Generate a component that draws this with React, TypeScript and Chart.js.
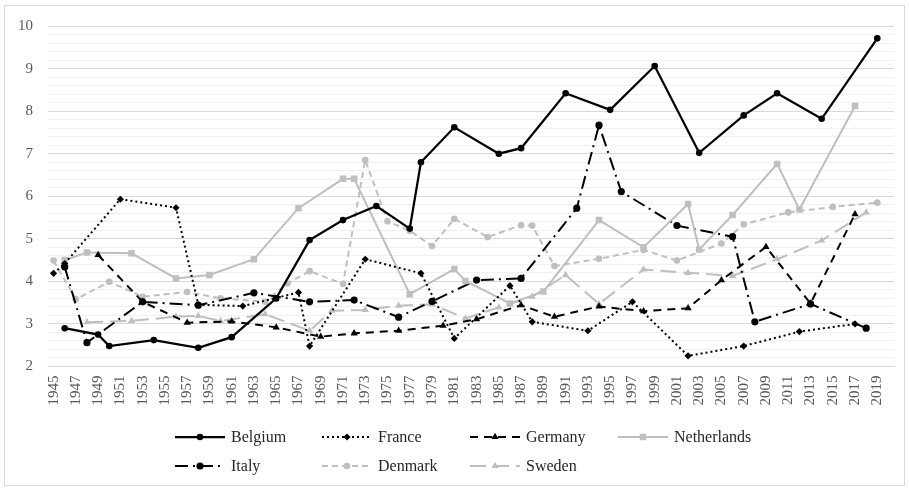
import React, { useEffect, useRef } from 'react';
import { Chart, registerables } from 'chart.js';

Chart.register(...registerables);

// ---------------- Data ----------------
const xTickYears = [1945, 1947, 1949, 1951, 1953, 1955, 1957, 1959, 1961, 1963, 1965, 1967, 1969, 1971, 1973, 1975, 1977, 1979, 1981, 1983, 1985, 1987, 1989, 1991, 1993, 1995, 1997, 1999, 2001, 2003, 2005, 2007, 2009, 2011, 2013, 2015, 2017, 2019];
const yTickLabels = ['2', '3', '4', '5', '6', '7', '8', '9', '10'];

const belgiumYears = [1946, 1949, 1950, 1954, 1958, 1961, 1965, 1968, 1971, 1974, 1977, 1978, 1981, 1985, 1987, 1991, 1995, 1999, 2003, 2007, 2010, 2014, 2019];
const belgiumValues = [2.90, 2.75, 2.48, 2.62, 2.44, 2.69, 3.60, 4.97, 5.44, 5.77, 5.24, 6.80, 7.62, 7.00, 7.13, 8.42, 8.03, 9.06, 7.02, 7.90, 8.42, 7.82, 9.71];

const franceYears = [1945, 1946, 1951, 1956, 1958, 1962, 1967, 1968, 1973, 1978, 1981, 1986, 1988, 1993, 1997, 2002, 2007, 2012, 2017];
const franceValues = [4.19, 4.42, 5.93, 5.73, 3.45, 3.42, 3.74, 2.48, 4.52, 4.19, 2.66, 3.90, 3.05, 2.84, 3.52, 2.25, 2.48, 2.82, 3.00];

const germanyYears = [1949, 1953, 1957, 1961, 1965, 1969, 1972, 1976, 1980, 1983, 1987, 1990, 1994, 1998, 2002, 2005, 2009, 2013, 2017];
const germanyValues = [4.62, 3.52, 3.03, 3.06, 2.92, 2.70, 2.78, 2.84, 2.96, 3.11, 3.44, 3.17, 3.41, 3.30, 3.37, 4.03, 4.81, 3.48, 5.58];

const netherlandsYears = [1946, 1948, 1952, 1956, 1959, 1963, 1967, 1971, 1972, 1977, 1981, 1982, 1986, 1989, 1994, 1998, 2002, 2003, 2006, 2010, 2012, 2017];
const netherlandsValues = [4.50, 4.68, 4.66, 4.07, 4.15, 4.52, 5.72, 6.41, 6.41, 3.70, 4.29, 4.01, 3.48, 3.76, 5.44, 4.80, 5.82, 4.75, 5.56, 6.76, 5.69, 8.12];

const italyYears = [1946, 1948, 1953, 1958, 1963, 1968, 1972, 1976, 1979, 1983, 1987, 1992, 1994, 1996, 2001, 2006, 2008, 2013, 2018];
const italyValues = [4.34, 2.56, 3.52, 3.44, 3.73, 3.52, 3.56, 3.16, 3.53, 4.03, 4.07, 5.72, 7.67, 6.11, 5.31, 5.05, 3.05, 3.47, 2.90];

const denmarkYears = [1945, 1947, 1950, 1953, 1957, 1960, 1964, 1966, 1968, 1971, 1973, 1975, 1977, 1979, 1981, 1984, 1987, 1988, 1990, 1994, 1998, 2001, 2005, 2007, 2011, 2015, 2019];
const denmarkValues = [4.49, 3.58, 3.99, 3.64, 3.75, 3.60, 3.52, 3.95, 4.24, 3.94, 6.85, 5.41, 5.19, 4.83, 5.47, 5.04, 5.32, 5.31, 4.36, 4.53, 4.74, 4.49, 4.89, 5.34, 5.62, 5.75, 5.85];

const swedenYears = [1948, 1952, 1956, 1958, 1960, 1964, 1968, 1970, 1973, 1976, 1979, 1982, 1985, 1988, 1991, 1994, 1998, 2002, 2006, 2010, 2014, 2018];
const swedenValues = [3.04, 3.07, 3.17, 3.19, 3.07, 3.23, 2.84, 3.31, 3.33, 3.43, 3.46, 3.13, 3.39, 3.64, 4.15, 3.47, 4.28, 4.20, 4.13, 4.52, 4.96, 5.62];

// ---------------- Styles ----------------
const BLACK = '#000000';
const GRAY = '#bfbfbf';
const FONT = "'Liberation Serif', 'Times New Roman', serif";

type SeriesDef = {
  label: string;
  years: number[];
  values: number[];
  color: string;
  width: number;
  dash: number[];
  marker: 'circle' | 'rectRot' | 'triangle' | 'rect';
  radius: number;
};

const series: SeriesDef[] = [
  { label: 'Belgium', years: belgiumYears, values: belgiumValues, color: BLACK, width: 2.25, dash: [], marker: 'circle', radius: 3.3 },
  { label: 'France', years: franceYears, values: franceValues, color: BLACK, width: 2, dash: [2, 3], marker: 'rectRot', radius: 3.6 },
  { label: 'Germany', years: germanyYears, values: germanyValues, color: BLACK, width: 2, dash: [8, 6], marker: 'triangle', radius: 4.2 },
  { label: 'Netherlands', years: netherlandsYears, values: netherlandsValues, color: GRAY, width: 2, dash: [], marker: 'rect', radius: 4.6 },
  { label: 'Italy', years: italyYears, values: italyValues, color: BLACK, width: 2, dash: [13, 5, 2, 5], marker: 'circle', radius: 3.6 },
  { label: 'Denmark', years: denmarkYears, values: denmarkValues, color: GRAY, width: 2, dash: [6, 4], marker: 'circle', radius: 3.3 },
  { label: 'Sweden', years: swedenYears, values: swedenValues, color: GRAY, width: 2, dash: [16, 7], marker: 'triangle', radius: 4.2 },
];

const legendCols = [175, 322, 470, 618];
const legendRows = [437, 466];

function drawMarker(ctx: CanvasRenderingContext2D, kind: string, x: number, y: number, r: number, color: string) {
  ctx.save();
  ctx.setLineDash([]);
  ctx.fillStyle = color;
  ctx.beginPath();
  if (kind === 'circle') {
    ctx.arc(x, y, r, 0, Math.PI * 2);
  } else if (kind === 'rectRot') {
    ctx.moveTo(x, y - r);
    ctx.lineTo(x + r, y);
    ctx.lineTo(x, y + r);
    ctx.lineTo(x - r, y);
    ctx.closePath();
  } else if (kind === 'triangle') {
    ctx.moveTo(x, y - r);
    ctx.lineTo(x + r * 0.866, y + r * 0.5);
    ctx.lineTo(x - r * 0.866, y + r * 0.5);
    ctx.closePath();
  } else {
    const s = r * Math.SQRT1_2;
    ctx.rect(x - s, y - s, 2 * s, 2 * s);
  }
  ctx.fill();
  ctx.restore();
}

const customLegend = {
  id: 'customLegend',
  afterDraw(chart: any) {
    const ctx: CanvasRenderingContext2D = chart.ctx;
    ctx.save();
    // outer chart border
    ctx.strokeStyle = '#d9d9d9';
    ctx.lineWidth = 1;
    ctx.setLineDash([]);
    ctx.strokeRect(4.5, 5.5, 900, 480);
    series.forEach((s, i) => {
      const col = i < 4 ? i : i - 4;
      const row = i < 4 ? 0 : 1;
      const x0 = legendCols[col];
      const y = legendRows[row];
      ctx.save();
      ctx.strokeStyle = s.color;
      ctx.lineWidth = s.width;
      ctx.setLineDash(s.dash);
      ctx.beginPath();
      ctx.moveTo(x0, y);
      ctx.lineTo(x0 + 50, y);
      ctx.stroke();
      ctx.restore();
      drawMarker(ctx, s.marker, x0 + 25, y, s.radius, s.color);
      ctx.fillStyle = '#262626';
      ctx.font = `16px ${FONT}`;
      ctx.textBaseline = 'middle';
      ctx.textAlign = 'left';
      ctx.fillText(s.label, x0 + 56, y + 1);
    });
    ctx.restore();
  },
};

const isInt = (v: number) => Math.abs(v - Math.round(v)) < 1e-6;

export default function App() {
  const ref = useRef<HTMLCanvasElement | null>(null);

  useEffect(() => {
    document.body.style.margin = '0';
    const canvas = ref.current;
    if (!canvas) return;
    const chart = new Chart(canvas, {
      type: 'line',
      data: {
        datasets: series.map((s) => ({
          label: s.label,
          data: s.years.map((yr, i) => ({ x: yr, y: s.values[i] })),
          borderColor: s.color,
          backgroundColor: s.color,
          borderWidth: s.width,
          borderDash: s.dash,
          pointStyle: s.marker,
          pointRadius: s.radius,
          pointBorderWidth: 0,
          pointBackgroundColor: s.color,
          pointBorderColor: s.color,
          tension: 0,
          fill: false,
        })),
      },
      options: {
        responsive: false,
        animation: false,
        events: [],
        layout: { padding: { top: 26, right: 15, left: 0, bottom: 0 } },
        plugins: {
          legend: { display: false },
          tooltip: { enabled: false },
          title: { display: false },
        },
        scales: {
          x: {
            type: 'linear',
            min: 1944.5,
            max: 2020.5,
            afterBuildTicks: (scale: any) => {
              scale.ticks = xTickYears.map((v) => ({ value: v }));
            },
            afterFit: (scale: any) => {
              scale.height = 123.5;
              scale.paddingLeft = 0;
              scale.paddingRight = 0;
            },
            grid: { display: false, drawTicks: false },
            border: { display: true, color: '#d9d9d9' },
            ticks: {
              autoSkip: false,
              minRotation: 90,
              maxRotation: 90,
              padding: 9,
              color: '#595959',
              font: { family: FONT, size: 15 },
              callback: (v: any) => String(v),
            },
          },
          y: {
            min: 2,
            max: 10,
            afterFit: (scale: any) => {
              scale.width = 48;
            },
            grid: {
              drawTicks: false,
              color: (c: any) => (isInt(c.tick.value) ? '#d9d9d9' : '#f1f1f1'),
              lineWidth: 1,
            },
            border: { display: false },
            ticks: {
              autoSkip: false,
              stepSize: 0.2,
              padding: 15,
              color: '#595959',
              font: { family: FONT, size: 15 },
              callback: (v: any) => (isInt(v) ? yTickLabels[Math.round(v) - 2] : ''),
            },
          },
        },
      },
      plugins: [customLegend],
    } as any);
    return () => chart.destroy();
  }, []);

  return (
    <div style={{ width: 909, height: 490 }}>
      <canvas ref={ref} width={909} height={490} style={{ display: 'block' }} />
    </div>
  );
}
